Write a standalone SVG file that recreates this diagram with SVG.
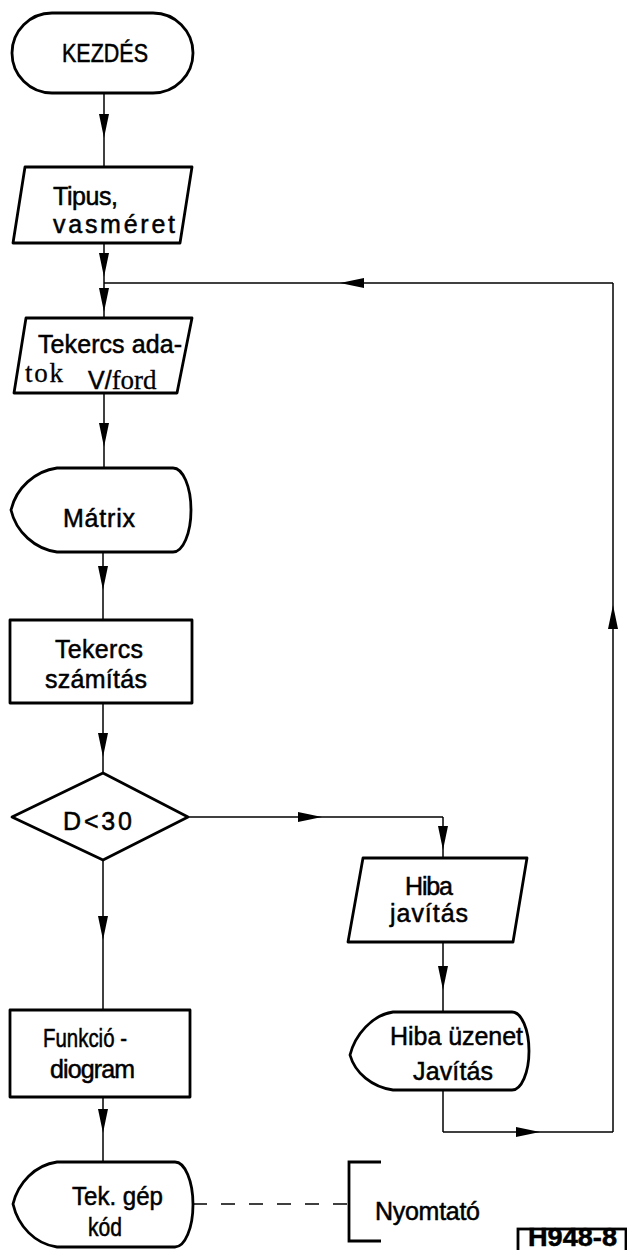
<svg xmlns="http://www.w3.org/2000/svg" width="627" height="1250" viewBox="0 0 627 1250">
<style>
.shape{fill:#fff;stroke:#000;stroke-width:2.8;stroke-linejoin:round}
.conn{fill:none;stroke:#000;stroke-width:1.5;marker-mid:url(#ah)}
.plain{fill:none;stroke:#000;stroke-width:1.5}
.dash{fill:none;stroke:#000;stroke-width:1.5;stroke-dasharray:14 14}
.t{font-family:"Liberation Sans",Arial,sans-serif;font-size:25px;fill:#000;stroke:#000;stroke-width:0.5}
.s{font-family:"Liberation Serif","Times New Roman",serif;font-size:27px;fill:#000;stroke:#000;stroke-width:0.3}
</style>
<defs>
<marker id="ah" viewBox="0 0 24 10" refX="24" refY="5" markerWidth="24" markerHeight="10" markerUnits="userSpaceOnUse" orient="auto"><path d="M0,0 L24,5 L0,10 Z" fill="#000"/></marker>
</defs>
<rect width="627" height="1250" fill="#fff"/>
<g id="connectors">
<path class="conn" d="M104,93 L104,138 L104,167"/>
<path class="conn" d="M104,243 L104,277 L104,312 L104,318"/>
<path class="conn" d="M104,393 L104,447 L104,468"/>
<path class="conn" d="M103,552 L103,590 L103,620"/>
<path class="conn" d="M103,703 L103,757 L103,773"/>
<path class="conn" d="M103,860 L103,940 L103,1010"/>
<path class="conn" d="M103,1097 L103,1133 L103,1162"/>
<path class="conn" d="M188,817 L322,817 L443,817"/>
<path class="conn" d="M443,817 L443,850 L443,858"/>
<path class="conn" d="M443,942 L443,990 L443,1012"/>
<path class="plain" d="M443,1090 L443,1132"/>
<path class="conn" d="M443,1132 L540,1132 L613,1132"/>
<path class="conn" d="M613,1132 L613,605 L613,283"/>
<path class="conn" d="M613,283 L340,283 L104,283"/>
<path class="dash" d="M193,1204 L349,1204"/>
</g>
<g id="kezdes">
<rect class="shape" x="12" y="13" width="181" height="80" rx="40" ry="40"/>
<text class="t" x="62" y="62" textLength="86" lengthAdjust="spacingAndGlyphs">KEZDÉS</text>
</g>
<g id="tipus">
<polygon class="shape" points="25,167 192,167 180,243 13,243"/>
<text class="t" x="53" y="205" textLength="65">Tipus,</text>
<text class="t" x="53" y="233" textLength="122">vasméret</text>
</g>
<g id="tekercs-adatok">
<polygon class="shape" points="26,318 192,318 177,393 14,393"/>
<text class="t" x="38" y="353" textLength="144">Tekercs ada-</text>
<text class="s" x="25" y="382" textLength="38">tok</text>
<text class="t" x="88" y="389">V/<tspan class="s">ford</tspan></text>
</g>
<g id="matrix">
<path class="shape" d="M57,468 L173,468 A18 42 0 0 1 173,552 L57,552 C35,549 16,532 11,510 C16,488 35,471 57,468 Z"/>
<text class="t" x="63" y="527" textLength="72">Mátrix</text>
</g>
<g id="tekercs-szamitas">
<rect class="shape" x="10" y="620" width="182" height="83"/>
<text class="t" x="55" y="658" textLength="88">Tekercs</text>
<text class="t" x="45" y="688" textLength="102">számítás</text>
</g>
<g id="d30">
<polygon class="shape" points="103,773 188,817 103,860 12,817"/>
<text class="t" x="63" y="830" textLength="69">D&lt;30</text>
</g>
<g id="hiba-javitas">
<polygon class="shape" points="363,858 527,858 513,942 348,942"/>
<text class="t" x="405" y="895" textLength="48">Hiba</text>
<text class="t" x="390" y="922" textLength="78">javítás</text>
</g>
<g id="hiba-uzenet">
<path class="shape" d="M393,1012 L512,1012 A17 39 0 0 1 512,1090 L393,1090 C372,1087 355,1073 350,1055 C355,1035 372,1015 393,1012 Z"/>
<text class="t" x="390" y="1045" textLength="133">Hiba üzenet</text>
<text class="t" x="413" y="1080" textLength="80">Javítás</text>
</g>
<g id="funkcio">
<rect class="shape" x="10" y="1010" width="180" height="87"/>
<text class="t" x="43" y="1047" textLength="84" lengthAdjust="spacingAndGlyphs">Funkció -</text>
<text class="t" x="50" y="1078" textLength="85">diogram</text>
</g>
<g id="tek-gep">
<path class="shape" d="M57,1162 L175,1162 A18 42.5 0 0 1 175,1247 L57,1247 C35,1244 18,1226 13,1204 C18,1183 35,1165 57,1162 Z"/>
<text class="t" x="72" y="1205" textLength="91" lengthAdjust="spacingAndGlyphs">Tek. gép</text>
<text class="t" x="88" y="1236" textLength="34" lengthAdjust="spacingAndGlyphs">kód</text>
</g>
<g id="nyomtato">
<path fill="none" stroke="#000" stroke-width="2.8" d="M381,1162 L349,1162 L349,1241 L381,1241"/>
<text class="t" x="375" y="1220" textLength="105">Nyomtató</text>
</g>
<g id="label">
<rect x="518" y="1229" width="108" height="30" fill="#fff" stroke="#000" stroke-width="2.8"/>
<text class="t" x="528" y="1246" font-size="18" font-weight="bold" textLength="89" lengthAdjust="spacingAndGlyphs">H948-8</text>
</g>
</svg>
